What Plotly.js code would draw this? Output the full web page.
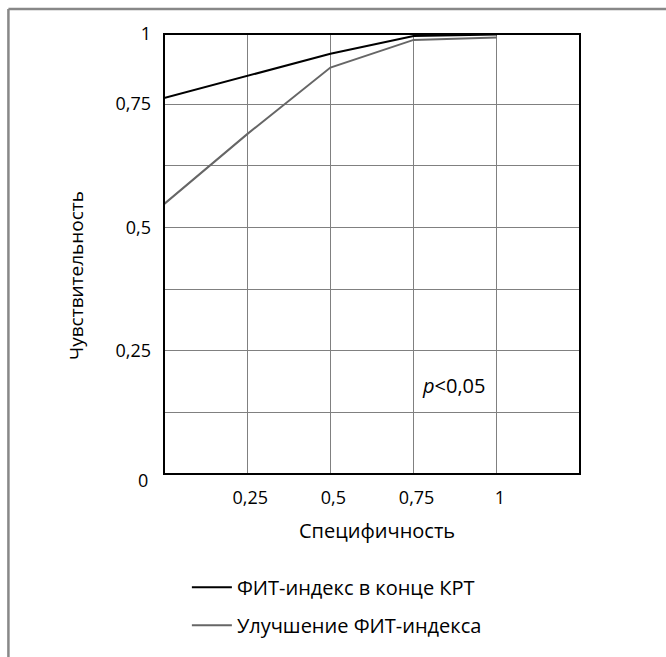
<!DOCTYPE html>
<html>
<head>
<meta charset="utf-8">
<script src="https://cdn.plot.ly/plotly-3.0.1.min.js"></script>
<style>
  html, body { margin: 0; padding: 0; background: #ffffff; }
  #chart { width: 666px; height: 657px; }
</style>
</head>
<body>
<div id="chart"></div>
<script>
// Specificity (x) and sensitivity (y), in the units of
// its (linear) drawn scale; the top edge of that scale is labelled "1".
const specificity = [0, 0.25, 0.5, 0.75, 1];
const fitEnd = [0.762, 0.807, 0.852, 0.888, 0.891];      // ФИТ-индекс в конце КРТ
const fitImprove = [0.547, 0.689, 0.824, 0.880, 0.885];  // Улучшение ФИТ-индекса

const seriesNames = ['ФИТ-индекс в конце КРТ', 'Улучшение ФИТ-индекса'];
const seriesColors = ['#000000', '#666666'];

const xTickVals = [0.25, 0.5, 0.75, 1];
const xTickText = ['0,25', '0,5', '0,75', '1'];
const yTop = 0.892;
const yTickVals = [0.125, 0.25, 0.375, 0.5, 0.625, 0.75, yTop];
const yTickText = ['', '0,25', '', '0,5', '', '0,75', '1'];

const xTitle = 'Специфичность';
const yTitle = 'Чувствительность';
const pText = '<i>p</i>&lt;0,05';

const FONT = 'Open Sans, Noto Sans, sans-serif';
const seriesY = [fitEnd, fitImprove];

const traces = seriesY.map((ys, i) => ({
  type: 'scatter', mode: 'lines',
  x: specificity, y: ys,
  name: seriesNames[i],
  legendgroup: 'g' + i,
  line: { color: seriesColors[i], width: 2 },
  hoverinfo: 'skip'
}));

const layout = {
  width: 666, height: 657,
  paper_bgcolor: '#ffffff', plot_bgcolor: '#ffffff',
  margin: { l: 164, r: 86, t: 34, b: 178, pad: 0 },
  font: { family: FONT, size: 18, color: '#000000' },
  showlegend: true,
  legend: {
    x: 0.055, xanchor: 'left', y: -0.213, yanchor: 'top',
    traceorder: 'grouped', tracegroupgap: 9,
    font: { family: FONT, size: 20, color: '#000000' },
    bgcolor: 'rgba(0,0,0,0)', itemwidth: 40, itemclick: false
  },
  xaxis: {
    range: [0, 1.25],
    tickvals: xTickVals, ticktext: xTickText,
    showgrid: true, gridcolor: '#808080', gridwidth: 1,
    zeroline: false, showline: false, ticks: '',
    ticklabelstandoff: 11, ticklabelshift: 3,
    tickfont: { family: FONT, size: 18, color: '#000000' }
  },
  yaxis: {
    range: [0, yTop],
    tickvals: yTickVals, ticktext: yTickText,
    showgrid: true, gridcolor: '#808080', gridwidth: 1,
    zeroline: false, showline: false, ticks: '',
    ticklabelstandoff: 12,
    tickfont: { family: FONT, size: 18, color: '#000000' }
  },
  shapes: [
    { type: 'rect', xref: 'paper', yref: 'paper', x0: 0, x1: 1, y0: 0, y1: 1,
      line: { color: '#000000', width: 2 }, layer: 'above' },
    { type: 'line', xref: 'paper', yref: 'paper', x0: -0.374, x1: 1.25, y0: 1.057, y1: 1.057,
      line: { color: '#888888', width: 2.5 } },
    { type: 'line', xref: 'paper', yref: 'paper', x0: -0.374, x1: -0.374, y0: 1.057, y1: -0.45,
      line: { color: '#888888', width: 2.5 } }
  ],
  annotations: [
    { text: xTitle, xref: 'paper', yref: 'paper', x: 0.513, y: -0.128,
      xanchor: 'center', yanchor: 'middle', showarrow: false,
      font: { family: FONT, size: 20, color: '#000000' } },
    { text: yTitle, xref: 'paper', yref: 'paper', x: -0.2115, y: 0.45,
      xanchor: 'center', yanchor: 'middle', textangle: -90, showarrow: false,
      font: { family: FONT, size: 19, color: '#000000' } },
    { text: '0', xref: 'paper', yref: 'paper', x: -0.0337, y: -0.0135,
      xanchor: 'right', yanchor: 'middle', showarrow: false,
      font: { family: FONT, size: 18, color: '#000000' } },
    { text: pText, xref: 'x', yref: 'y', x: 0.869, y: 0.18,
      xanchor: 'center', yanchor: 'middle', showarrow: false,
      font: { family: FONT, size: 20, color: '#000000' } }
  ]
};

Plotly.newPlot('chart', traces, layout, { staticPlot: true, displayModeBar: false });
</script>
</body>
</html>
